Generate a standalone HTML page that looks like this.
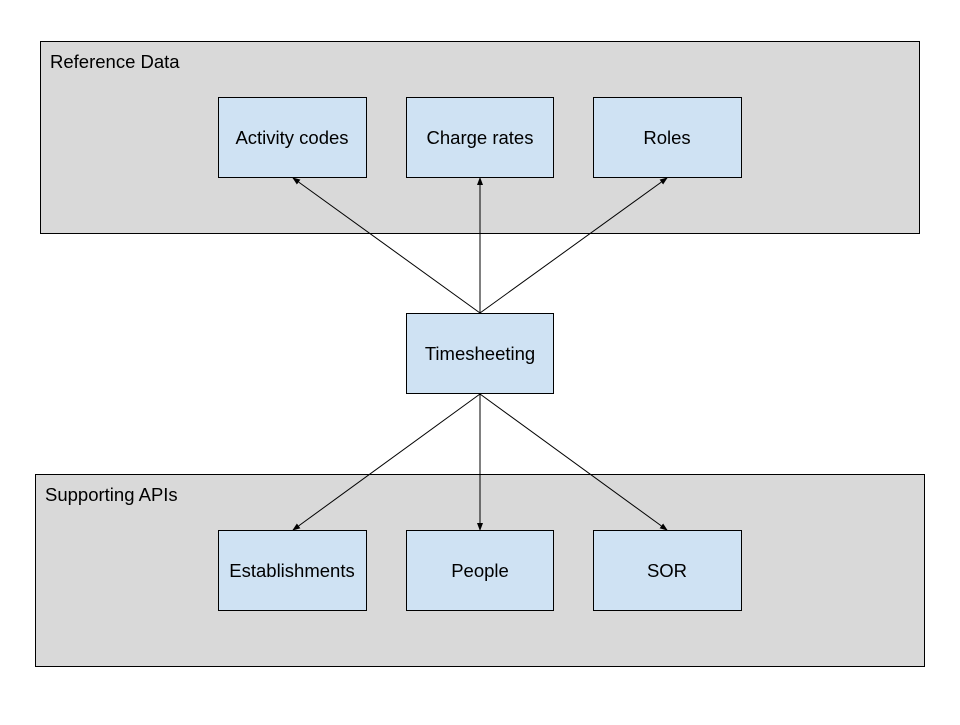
<!DOCTYPE html>
<html><head><style>body{margin:0;background:#fff}</style></head><body>
<svg width="960" height="720" xmlns="http://www.w3.org/2000/svg" font-family="Liberation Sans, Arial, sans-serif">
<defs><marker id="a" markerWidth="8" markerHeight="8" refX="7" refY="4" orient="auto" markerUnits="userSpaceOnUse"><path d="M0,1 L8,4 L0,7 Z" fill="#000"/></marker></defs>
<rect x="40.5" y="41.5" width="879" height="192" fill="#d9d9d9" stroke="#000"/>
<rect x="35.5" y="474.5" width="889" height="192" fill="#d9d9d9" stroke="#000"/>
<text x="50" y="68" font-size="18.5">Reference Data</text>
<text x="45" y="501" font-size="18.5">Supporting APIs</text>
<g fill="#cfe2f3" stroke="#000">
<rect x="218.5" y="97.5" width="148" height="80"/><rect x="406.5" y="97.5" width="147" height="80"/><rect x="593.5" y="97.5" width="148" height="80"/>
<rect x="406.5" y="313.5" width="147" height="80"/>
<rect x="218.5" y="530.5" width="148" height="80"/><rect x="406.5" y="530.5" width="147" height="80"/><rect x="593.5" y="530.5" width="148" height="80"/>
</g>
<g font-size="18.5" text-anchor="middle">
<text x="292" y="144">Activity codes</text><text x="480" y="144">Charge rates</text><text x="667" y="144">Roles</text>
<text x="480" y="360">Timesheeting</text>
<text x="292" y="577">Establishments</text><text x="480" y="577">People</text><text x="667" y="577">SOR</text>
</g>
<g stroke="#000" stroke-width="1" marker-end="url(#a)">
<line x1="480" y1="313" x2="293" y2="178"/><line x1="480" y1="313" x2="480" y2="178"/><line x1="480" y1="313" x2="667" y2="178"/>
<line x1="480" y1="394" x2="293" y2="530"/><line x1="480" y1="394" x2="480" y2="530"/><line x1="480" y1="394" x2="667" y2="530"/>
</g>
</svg>
</body></html>
